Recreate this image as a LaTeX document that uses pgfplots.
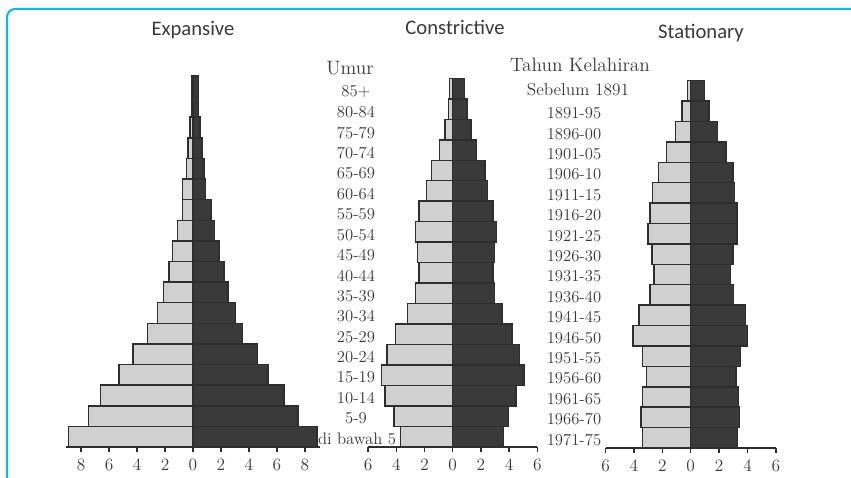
\documentclass[border=0pt]{standalone}
\usepackage{pgfplots}
\pgfplotsset{compat=1.18}
\usepackage{fontspec}
\newfontfamily\titlefont{Carlito}
\definecolor{lightbar}{HTML}{D0D0D0}
\definecolor{darkbar}{HTML}{3A3A3A}
\definecolor{edge}{HTML}{2E2E2E}
\definecolor{txt}{HTML}{3A3A3A}
\definecolor{frame}{HTML}{12B5EC}
\pgfplotsset{pyr/.style={
  scale only axis, anchor=south west,
  xbar, bar shift=0pt, bar width=1,
  ymin=-0.5, ymax=17.5, enlargelimits=false,
  axis x line=bottom, axis y line=none,
  x axis line style={-, line width=1pt, draw=edge},
  xtick style={line width=1pt, draw=edge},
  tick align=outside, major tick length=4pt,
  xticklabel style={font=\fontsize{13}{15}\selectfont, text=txt, yshift=-1.5pt},
  /pgf/number format/assume math mode=true,
  clip=false,
  lb/.style={fill=lightbar, draw=edge, line width=1.1pt},
  db/.style={fill=darkbar, draw=edge, line width=1.1pt},
}}
\begin{document}
\begin{tikzpicture}[x=0.75pt,y=0.75pt]
\path[use as bounding box] (0,0) rectangle (851,478);
\draw[frame, line width=1.6pt, rounded corners=6pt] (7,-6) -- (7,469) -- (870,469);

% Expansive
\begin{axis}[pyr, at={(49.2pt,23.25pt)}, width=191.1pt, height=278.3pt,
  xmin=-9.1, xmax=9.1, xtick={-8,-6,...,8}, xticklabels={8,6,4,2,0,2,4,6,8}]
\addplot[lb] coordinates {(-8.9,0) (-7.45,1) (-6.6,2) (-5.3,3) (-4.3,4) (-3.25,5) (-2.55,6) (-2.1,7) (-1.7,8) (-1.45,9) (-1.1,10) (-0.75,11) (-0.75,12) (-0.45,13) (-0.35,14) (-0.2,15) (-0.1,16) (-0.1,17)};
\addplot[db] coordinates {(8.85,0) (7.5,1) (6.5,2) (5.35,3) (4.6,4) (3.55,5) (3.05,6) (2.5,7) (2.2,8) (1.85,9) (1.55,10) (1.3,11) (0.9,12) (0.8,13) (0.65,14) (0.5,15) (0.4,16) (0.4,17)};
\end{axis}

% Constrictive
\begin{axis}[pyr, at={(276.08pt,23.25pt)}, width=126.9pt, height=276.5pt,
  xmin=-6, xmax=6, xtick={-6,-4,...,6}, xticklabels={6,4,2,0,2,4,6}]
\addplot[lb] coordinates {(-3.7,0) (-4.15,1) (-4.8,2) (-5.05,3) (-4.65,4) (-4.05,5) (-3.2,6) (-2.65,7) (-2.4,8) (-2.5,9) (-2.65,10) (-2.4,11) (-1.85,12) (-1.5,13) (-0.95,14) (-0.55,15) (-0.3,16) (-0.24,17)};
\addplot[db] coordinates {(3.6,0) (3.95,1) (4.5,2) (5.05,3) (4.75,4) (4.2,5) (3.5,6) (2.95,7) (2.85,8) (2.95,9) (3.1,10) (2.85,11) (2.45,12) (2.3,13) (1.7,14) (1.3,15) (1.0,16) (0.85,17)};
\end{axis}

% Stationary
\begin{axis}[pyr, at={(454.13pt,22.5pt)}, width=127.8pt, height=275.5pt,
  xmin=-6, xmax=6, xtick={-6,-4,...,6}, xticklabels={6,4,2,0,2,4,6}]
\addplot[lb] coordinates {(-3.38,0) (-3.5,1) (-3.4,2) (-3.1,3) (-3.4,4) (-4.05,5) (-3.64,6) (-2.86,7) (-2.57,8) (-2.74,9) (-3.0,10) (-2.86,11) (-2.7,12) (-2.26,13) (-1.7,14) (-1.07,15) (-0.6,16) (-0.24,17)};
\addplot[db] coordinates {(3.3,0) (3.42,1) (3.37,2) (3.2,3) (3.5,4) (4.0,5) (3.84,6) (3.0,7) (2.8,8) (2.98,9) (3.25,10) (3.25,11) (3.1,12) (2.98,13) (2.5,14) (1.9,15) (1.28,16) (0.98,17)};
\end{axis}

% texts
\begin{scope}[every node/.style={text=txt, inner sep=0pt}]
\node[font=\titlefont\fontsize{15.5}{18}\selectfont] at (193,448) {Expansive};
\node[font=\titlefont\fontsize{15.5}{18}\selectfont] at (455,451) {Constrictive};
\node[font=\titlefont\fontsize{15.5}{18}\selectfont] at (701,445) {Stationary};
\node[font=\fontsize{14.5}{17}\selectfont] at (350,410) {Umur};
\node[font=\fontsize{14.5}{17}\selectfont] at (580,413) {Tahun Kelahiran};
\node[font=\fontsize{13}{15}\selectfont] at (578,388) {Sebelum 1891};
\foreach \lab [count=\i from 0] in {85+,80-84,75-79,70-74,65-69,60-64,55-59,50-54,45-49,40-44,35-39,30-34,25-29,20-24,15-19,10-14,5-9}
  \node[font=\fontsize{12.5}{14}\selectfont] at (356,{478-92-20.4*\i}) {\lab};
\node[font=\fontsize{12.5}{14}\selectfont] at (357,{478-438.8}) {di bawah 5};
\foreach \lab [count=\i from 1] in {1891-95,1896-00,1901-05,1906-10,1911-15,1916-20,1921-25,1926-30,1931-35,1936-40,1941-45,1946-50,1951-55,1956-60,1961-65,1966-70,1971-75}
  \node[font=\fontsize{12.5}{14}\selectfont] at (574,{478-113.3-20.4*(\i-1)}) {\lab};
\end{scope}
\end{tikzpicture}
\end{document}
